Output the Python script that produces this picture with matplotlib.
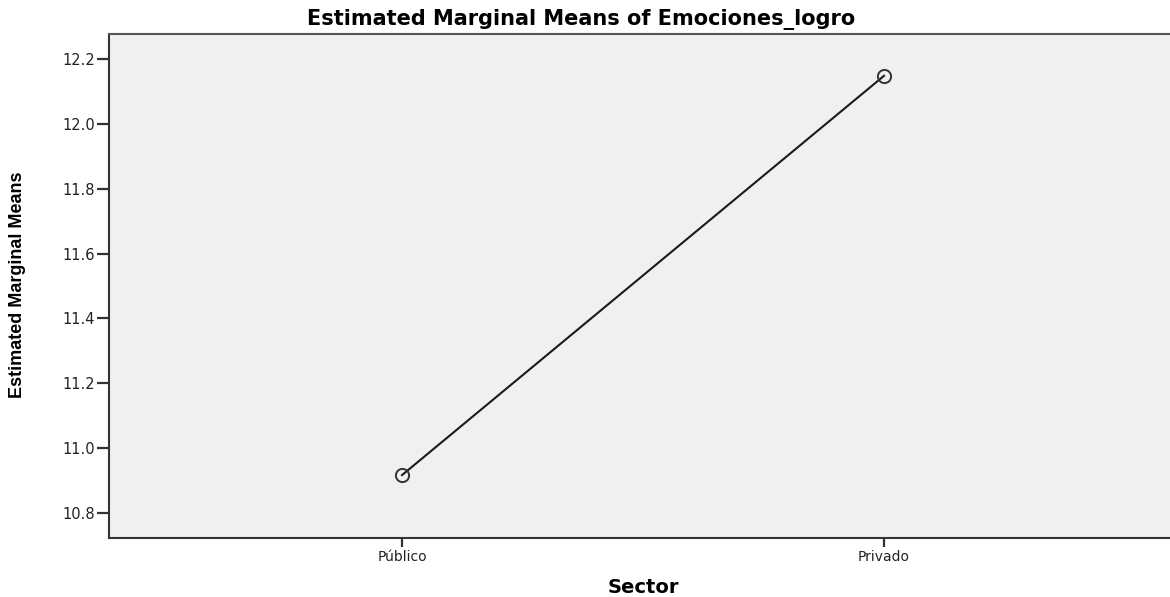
import matplotlib
matplotlib.use("Agg")
import matplotlib.pyplot as plt
from matplotlib import font_manager

categories = ["Público", "Privado"]
means = [10.917, 12.148]
yticks = [10.8, 11.0, 11.2, 11.4, 11.6, 11.8, 12.0, 12.2]

names = {f.name for f in font_manager.fontManager.ttflist}
narrow = "Liberation Sans Narrow" if "Liberation Sans Narrow" in names else "Liberation Sans"
wide = "DejaVu Sans"

fig = plt.figure(figsize=(11.70, 5.97), dpi=100)
ax = fig.add_axes([109/1170, 1-538/597, (1177-109)/1170, (538-34)/597])
ax.set_facecolor("#f0f0f0")

x = list(range(len(categories)))
ax.plot(x, means, color="#1a1a1a", lw=1.5, marker="o", ms=9.5,
        mfc="none", mec="#333333", mew=1.4)

ax.set_xlim(-0.608, 1.608)
ax.set_ylim(10.723, 12.277)
ax.set_xticks(x)
ax.set_xticklabels(categories, fontfamily=wide, fontsize=10, color="#222222")
ax.set_yticks(yticks)
ax.set_yticklabels([f"{v:.1f}" for v in yticks], fontfamily=wide,
                   fontsize=10.5, color="#222222")
ax.tick_params(axis="y", length=9, width=1.6, color="#333333", pad=1)
ax.tick_params(axis="x", length=6.5, width=1.6, color="#333333", pad=2)

for s in ax.spines.values():
    s.set_color("#333333")
    s.set_linewidth(1.5)
ax.spines["top"].set_color("#555555")

ax.set_xlabel("Sector", fontfamily=wide, fontweight="bold",
              fontsize=14, labelpad=10)
fig.text(18/1170, 1-285/597, "Estimated Marginal Means", rotation=90,
         fontfamily=narrow, fontweight="bold", fontsize=13,
         ha="center", va="center")
fig.text(0.497, 1-19/597, "Estimated Marginal Means of Emociones_logro",
         fontfamily=wide, fontweight="bold", fontsize=15,
         ha="center", va="center")

fig.savefig("out.png", dpi=100)
